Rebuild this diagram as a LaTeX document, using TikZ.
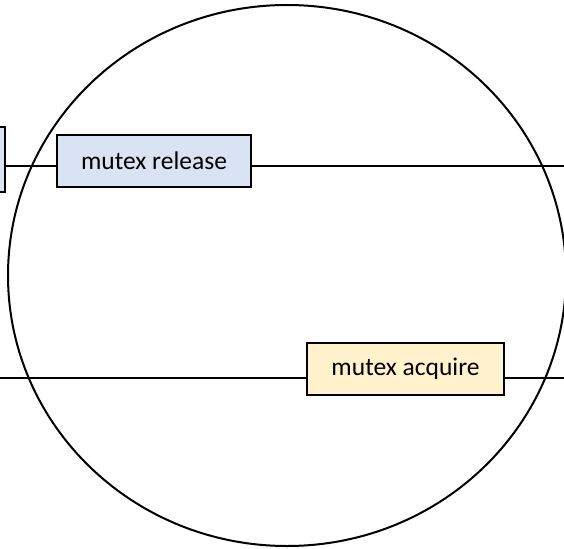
\documentclass[tikz,border=0pt]{standalone}
\usepackage{fontspec}
\setmainfont{Carlito}
\definecolor{boxblue}{HTML}{DAE3F3}
\definecolor{boxyellow}{HTML}{FFF2CC}
\begin{document}
\begin{tikzpicture}[x=1pt,y=-1pt,
  box/.style={draw=black, line width=1.5pt, minimum width=194pt, minimum height=52pt,
    inner sep=0pt, font=\fontsize{25.5}{28}\selectfont, anchor=center},
  wire/.style={draw=black, line width=1.3pt}]
\useasboundingbox (0,0) rectangle (564,548);
\clip (0,0) rectangle (564,548);
\node[box, fill=boxblue, minimum width=100pt, minimum height=65pt] (left) at (-45,159.5) {};
\node[box, fill=boxblue] (rel) at (154,161) {mutex release};
\node[box, fill=boxyellow, minimum width=197pt] (acq) at (405.5,369) {mutex acquire};
\coordinate (r1) at (564,166);
\coordinate (l2) at (0,378);
\coordinate (r2) at (564,378);
\draw[wire] (left.east |- 0,166) -- (rel.west |- 0,166);
\draw[wire] (rel.east |- 0,166) -- (r1);
\draw[wire] (l2) -- (acq.west |- 0,378);
\draw[wire] (acq.east |- 0,378) -- (r2);
\draw[line width=2pt] (287,275.5) ellipse [x radius=279, y radius=270.5];
\end{tikzpicture}
\end{document}
